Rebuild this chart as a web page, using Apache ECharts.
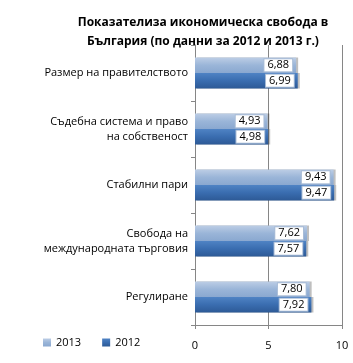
<!DOCTYPE html>
<html>
<head>
<meta charset="utf-8">
<script src="https://cdn.jsdelivr.net/npm/echarts@6/dist/echarts.min.js"></script>
<style>
  html, body { margin: 0; padding: 0; background: #fff; }
  #chart { width: 353px; height: 363px; }
</style>
</head>
<body>
<div id="chart"></div>
<script>
// categories top to bottom
const categories = [
  'Размер на правителството',
  'Съдебна система и право\nна собственост',
  'Стабилни пари',
  'Свобода на\nмеждународната търговия',
  'Регулиране'
]
const values2013 = [6.88, 4.93, 9.43, 7.62, 7.80]
const values2012 = [6.99, 4.98, 9.47, 7.57, 7.92]
const xTicks = [0, 5, 10]

const font = 'Open Sans'

const chart = echarts.init(document.getElementById('chart'))

const labelStyle = {
  show: true,
  position: 'insideRight',
  distance: 4,
  color: '#000',
  fontFamily: font,
  fontSize: 11,
  backgroundColor: '#fff',
  borderColor: '#a8bcd6',
  borderWidth: 1,
  padding: [1, 3, 0, 3],
  formatter: p => p.value.toFixed(2).replace('.', ',')
}

chart.setOption({
  animation: false,
  title: {
    text: 'Показателиза икономическа свобода в\nБългария (по данни за 2012 и 2013 г.)',
    left: 198,
    textAlign: 'center',
    top: 8,
    textStyle: { fontFamily: font, fontSize: 12, fontWeight: 'bold', color: '#000', lineHeight: 19 }
  },
  legend: {
    bottom: 10,
    left: 38,
    itemWidth: 8,
    itemHeight: 8,
    itemGap: 21,
    icon: 'rect',
    textStyle: { fontFamily: font, fontSize: 11, color: '#000' },
    data: ['2013', '2012']
  },
  grid: { left: 195, right: 11, top: 45, bottom: 38 },
  xAxis: {
    type: 'value',
    min: 0,
    max: 10,
    interval: 5,
    axisLine: { show: true, lineStyle: { color: '#868686' } },
    axisTick: { show: true, length: 4, lineStyle: { color: '#868686' } },
    splitLine: { show: true, lineStyle: { color: '#868686' } },
    axisLabel: {
      fontFamily: font, fontSize: 11, color: '#000', margin: 15,
      formatter: v => xTicks.includes(v) ? String(v) : ''
    }
  },
  yAxis: {
    type: 'category',
    inverse: true,
    data: categories,
    axisLine: { show: true, lineStyle: { color: '#868686' } },
    axisTick: { show: true, length: 4, lineStyle: { color: '#868686' } },
    axisLabel: { fontFamily: font, fontSize: 11, color: '#000', margin: 7, lineHeight: 15 }
  },
  series: [
    {
      name: '2013',
      type: 'bar',
      data: values2013,
      barGap: '0%',
      barCategoryGap: '45%',
      itemStyle: {
        color: new echarts.graphic.LinearGradient(0, 0, 0, 1, [
          { offset: 0, color: '#bccde5' },
          { offset: 0.5, color: '#9ab5d8' },
          { offset: 1, color: '#8aa8d0' }
        ]),
        shadowColor: 'rgba(0,0,0,0.25)',
        shadowOffsetX: 2
      },
      label: labelStyle
    },
    {
      name: '2012',
      type: 'bar',
      data: values2012,
      itemStyle: {
        color: new echarts.graphic.LinearGradient(0, 0, 0, 1, [
          { offset: 0, color: '#4f83c4' },
          { offset: 0.5, color: '#3a6db0' },
          { offset: 1, color: '#2d5a96' }
        ]),
        shadowColor: 'rgba(0,0,0,0.25)',
        shadowOffsetX: 2
      },
      label: labelStyle
    }
  ]
})
</script>
</body>
</html>
